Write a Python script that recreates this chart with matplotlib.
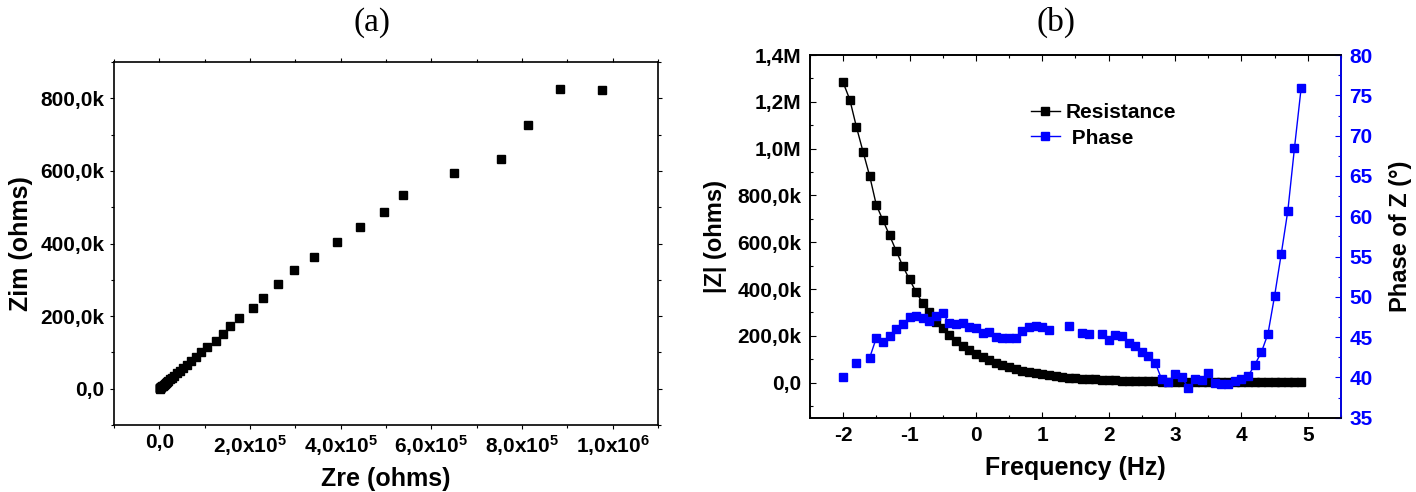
import numpy as np
import matplotlib
matplotlib.use("Agg")
import matplotlib.pyplot as plt
from matplotlib.ticker import MultipleLocator, FuncFormatter

plt.rcParams.update({
    "font.family": ["Liberation Sans", "DejaVu Sans"],
    "font.weight": "bold",
    "mathtext.default": "regular",
    "axes.unicode_minus": False,
    "axes.linewidth": 1.2,
})

# (a) Nyquist plot: Zre, Zim in ohms (values in k-ohm)
zre_k = [977, 883, 813, 754, 650, 537, 496, 443, 391, 341, 297, 261, 229, 207,
         175, 156, 140, 124, 106, 92, 80, 69, 60, 52, 45, 39, 33, 28, 24, 20,
         17, 14, 11.5, 9.5, 7.5, 6, 4.5, 3.5, 2.5, 1.8, 1.2, 0.8, 0.5]
zim_k = [823, 825, 726, 634, 595, 535, 486, 446, 405, 362, 326, 288, 251, 223,
         194, 174, 151, 132, 116, 100, 88, 76, 66, 57, 49, 43, 36, 31, 26, 22,
         18.5, 15, 12.5, 10.3, 8.2, 6.5, 5, 3.8, 2.7, 1.9, 1.3, 0.9, 0.5]

# (b) Bode plot: log frequency, |Z| (k-ohm) and phase (deg)
freq_log = [-2.0, -1.9, -1.8, -1.7, -1.6, -1.5, -1.4, -1.3, -1.2, -1.1,
            -1.0, -0.9, -0.8, -0.7, -0.6, -0.5, -0.4, -0.3, -0.2, -0.1,
            0.0, 0.1, 0.2, 0.3, 0.4, 0.5, 0.6, 0.7, 0.8, 0.9,
            1.0, 1.1, 1.2, 1.3, 1.4, 1.5, 1.6, 1.7, 1.8, 1.9,
            2.0, 2.1, 2.2, 2.3, 2.4, 2.5, 2.6, 2.7, 2.8, 2.9,
            3.0, 3.1, 3.2, 3.3, 3.4, 3.5, 3.6, 3.7, 3.8, 3.9,
            4.0, 4.1, 4.2, 4.3, 4.4, 4.5, 4.6, 4.7, 4.8, 4.9]
z_mod_k = [1283, 1210, 1093, 987, 883, 759, 694, 629, 563, 497,
           441, 387, 339, 304, 257, 235, 205, 180, 158, 140,
           124, 109, 96, 85, 75, 66, 58, 51, 45, 40,
           35, 31, 27, 24, 21, 19, 17, 15, 13.5, 12,
           11, 10, 9, 8, 7.3, 6.6, 6, 5.3, 4.7, 4.2,
           3.7, 3.3, 3, 2.7, 2.4, 2.2, 2, 1.8, 1.6, 1.5,
           1.4, 1.3, 1.2, 1.1, 1.0, 0.9, 0.85, 0.8, 0.75, 0.7]
nan = np.nan
phase = [40.0, nan, 41.75, nan, 42.45, 44.9, 44.35, 45.2, 45.95, 46.6,
         47.5, 47.6, 47.4, 47.0, 47.6, 48.0, 46.7, 46.6, 46.8, 46.3,
         46.1, 45.5, 45.6, 45.0, 44.95, 44.9, 44.85, 45.7, 46.2, 46.4,
         46.2, 45.9, nan, nan, 46.4, nan, 45.55, 45.4, nan, 45.4,
         44.7, 45.25, 45.1, 44.3, 43.9, 43.2, 42.65, 41.85, 39.75, 39.4,
         40.4, 40.1, 38.65, 39.75, 39.7, 40.6, 39.35, 39.2, 39.15, 39.6,
         39.75, 40.15, 41.55, 43.1, 45.4, 50.1, 55.3, 60.7, 68.5, 75.9]

TICK_FS = 15
LABEL_FS = 18


def k_fmt(v, pos):
    if abs(v) < 1e-9:
        return "0,0"
    if abs(v) >= 1e6 - 1:
        return f"{v / 1e6:.1f}M".replace(".", ",")
    return f"{v / 1e3:.1f}k".replace(".", ",")


def sci_fmt(v, pos):
    if abs(v) < 1e-9:
        return "0,0"
    exp = int(np.floor(np.log10(abs(v)) + 1e-9))
    mant = v / 10 ** exp
    return f"{mant:.1f}".replace(".", ",") + f"x10$^{{{exp}}}$"


fig = plt.figure(figsize=(14.16, 4.92), dpi=100)

# ---- panel (a)
ax1 = fig.add_axes([0.0805, 0.136, 0.3842, 0.738])
ax1.plot(np.array(zre_k) * 1e3, np.array(zim_k) * 1e3, linestyle="none",
         marker="s", markersize=5.2, color="black")
ax1.set_xlim(-1e5, 1.1e6)
ax1.set_ylim(-1e5, 9e5)
ax1.xaxis.set_major_locator(MultipleLocator(2e5))
ax1.xaxis.set_minor_locator(MultipleLocator(1e5))
ax1.yaxis.set_major_locator(MultipleLocator(2e5))
ax1.yaxis.set_minor_locator(MultipleLocator(1e5))
ax1.xaxis.set_major_formatter(FuncFormatter(sci_fmt))
ax1.yaxis.set_major_formatter(FuncFormatter(k_fmt))
ax1.tick_params(which="both", direction="out", top=True, right=True,
                labelsize=TICK_FS, width=0.8)
ax1.tick_params(which="major", length=3)
ax1.tick_params(which="minor", length=2)
ax1.tick_params(axis="x", pad=3)
ax1.tick_params(axis="y", pad=4)
ax1.set_xlabel("Zre (ohms)", fontsize=LABEL_FS, fontweight="bold", labelpad=6)
ax1.set_ylabel("Zim (ohms)", fontsize=LABEL_FS, fontweight="bold", labelpad=5)
fig.text(0.263, 0.955, "(a)", ha="center", va="center", fontsize=24,
         family="Liberation Serif", fontweight="normal")

# ---- panel (b)
ax2 = fig.add_axes([0.572, 0.151, 0.375, 0.737])
ax3 = ax2.twinx()
ax2.plot(freq_log, np.array(z_mod_k) * 1e3, color="black", linewidth=1.0,
         marker="s", markersize=5.2, label="Resistance")
ax3.plot(freq_log, phase, color="#0000FF", linewidth=1.0,
         marker="s", markersize=5.2, label=" Phase")
ax2.set_xlim(-2.5, 5.5)
ax2.set_ylim(-1.5e5, 1.4e6)
ax3.set_ylim(35, 80)
ax2.xaxis.set_major_locator(MultipleLocator(1))
ax2.xaxis.set_minor_locator(MultipleLocator(0.5))
ax2.yaxis.set_major_locator(MultipleLocator(2e5))
ax2.yaxis.set_minor_locator(MultipleLocator(1e5))
ax2.yaxis.set_major_formatter(FuncFormatter(k_fmt))
ax3.yaxis.set_major_locator(MultipleLocator(5))
ax3.yaxis.set_minor_locator(MultipleLocator(2.5))
ax2.tick_params(which="both", direction="in", top=True, labelsize=TICK_FS, width=0.8)
ax2.tick_params(which="major", length=4, pad=6)
ax2.tick_params(which="minor", length=2)
ax3.tick_params(which="both", direction="in", colors="#0000FF",
                labelsize=TICK_FS, width=0.8)
ax3.tick_params(which="major", length=4, pad=6)
ax3.tick_params(which="minor", length=2)
ax3.spines["right"].set_color("#0000FF")
ax2.set_xlabel("Frequency (Hz)", fontsize=LABEL_FS, fontweight="bold", labelpad=8)
ax2.set_ylabel("|Z| (ohms)", fontsize=LABEL_FS - 1, fontweight="bold", labelpad=8)
ax3.set_ylabel("Phase of Z (°)", fontsize=LABEL_FS - 1, fontweight="bold",
               labelpad=12, color="black")
h1, l1 = ax2.get_legend_handles_labels()
h3, l3 = ax3.get_legend_handles_labels()
ax2.legend(h1 + h3, l1 + l3, loc="upper left", bbox_to_anchor=(0.4, 0.89),
           frameon=False, fontsize=15, handlelength=1.4, handletextpad=0.3,
           labelspacing=0.3, borderaxespad=0)
fig.text(0.746, 0.955, "(b)", ha="center", va="center", fontsize=24,
         family="Liberation Serif", fontweight="normal")

fig.savefig("out.png", dpi=100)
